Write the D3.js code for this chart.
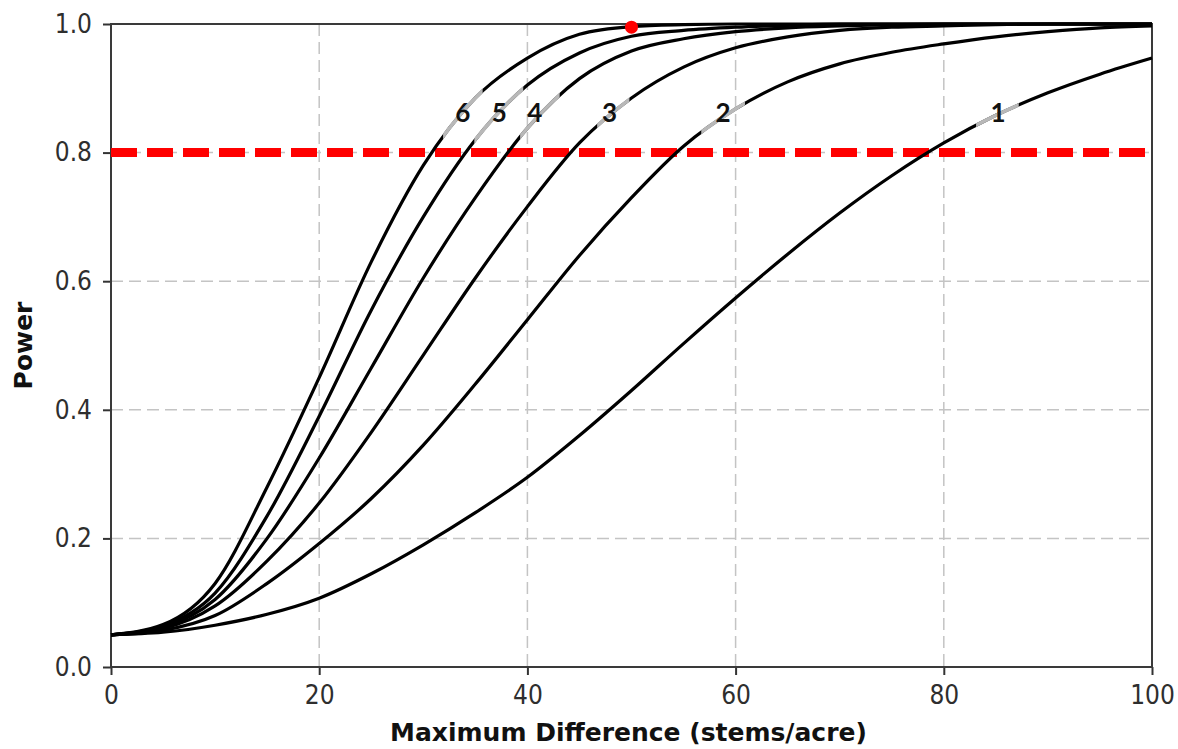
<!DOCTYPE html>
<html>
<head>
<meta charset="utf-8">
<script src="https://cdn.jsdelivr.net/npm/d3@7"></script>
<style>
    body { margin: 0; background: #fff; }
    #chart { width: 1178px; height: 749px; }
    .axis text { font-family: "DejaVu Sans Condensed", "DejaVu Sans", sans-serif; font-stretch: condensed; font-size: 26px; fill: #2e2e2e; }
    .axis line { stroke: #333; stroke-width: 2; }
    .axis path { display: none; }
    .grid line { stroke: #c4c4c4; stroke-width: 1.5; stroke-dasharray: 12, 6; }
    .axis-title { font-family: "DejaVu Sans", sans-serif; font-weight: bold; font-size: 25px; fill: #111; }
    .curve-label { font-family: Lato, "Open Sans", sans-serif; font-weight: bold; font-size: 26px; fill: #111; }
</style>
</head>
<body>
<div id="chart"></div>
<script>

// maximum difference (stems/acre) at which the curves were read
const diffs = [0, 5, 10, 15, 20, 25, 30, 35, 40, 45, 50, 55, 60, 65, 70, 75, 80, 85, 90, 95, 100];

// power, one array per curve
const power1 = [0.05, 0.054, 0.065, 0.082, 0.107, 0.145, 0.19, 0.24, 0.295, 0.36, 0.43, 0.503, 0.574, 0.642, 0.706, 0.764, 0.815, 0.858, 0.893, 0.922, 0.947];
const power2 = [0.05, 0.057, 0.08, 0.13, 0.192, 0.262, 0.345, 0.44, 0.54, 0.64, 0.73, 0.81, 0.868, 0.91, 0.938, 0.956, 0.969, 0.98, 0.988, 0.994, 0.997];
const power3 = [0.05, 0.06, 0.095, 0.165, 0.255, 0.365, 0.485, 0.605, 0.716, 0.815, 0.885, 0.933, 0.963, 0.98, 0.99, 0.995, 0.997, 0.999, 1, 1, 1];
const power4 = [0.05, 0.062, 0.105, 0.2, 0.325, 0.465, 0.605, 0.73, 0.838, 0.915, 0.958, 0.977, 0.988, 0.994, 0.997, 0.999, 1, 1, 1, 1, 1];
const power5 = [0.05, 0.064, 0.115, 0.235, 0.39, 0.555, 0.7, 0.82, 0.905, 0.955, 0.981, 0.99, 0.995, 0.998, 1, 1, 1, 1, 1, 1, 1];
const power6 = [0.05, 0.066, 0.13, 0.28, 0.45, 0.63, 0.78, 0.885, 0.947, 0.984, 0.996, 0.999, 1, 1, 1, 1, 1, 1, 1, 1, 1];

const curveNames = ["1", "2", "3", "4", "5", "6"];
const labelDiff = [85.2, 58.8, 47.9, 40.7, 37.3, 33.8];
const labelPower = 0.862;
// part of each curve that is drawn grey behind its label
const greyFrom = [83.1, 56.7, 46.7, 39.3, 34.9, 31.9];
const greyTo = [87.2, 60.9, 49.8, 43.1, 39.6, 35.7];

const targetPower = 0.8;
const markerDiff = 50;
const markerPower = 0.995;

const xTicks = [0, 20, 40, 60, 80, 100];
const yTicks = [0, 0.2, 0.4, 0.6, 0.8, 1.0];
const xGrid = [20, 40, 60, 80];
const yGrid = [0.2, 0.4, 0.6, 0.8];


class powerChart {

    constructor(opts) {
        this.element = opts.element;
        this.data = opts.data;
        this.update();
    }

    _setDimensions() {
        this.margin = {
            top: 24,
            right: 26,
            bottom: 82,
            left: 111
        };
        this.width = 1178 - this.margin.left - this.margin.right;
        this.height = 749 - this.margin.top - this.margin.bottom;
    }

    _setScales() {
        this.xScale = d3.scaleLinear()
            .domain([0, 100])
            .range([0, this.width]);

        this.yScale = d3.scaleLinear()
            .domain([0, 1])
            .range([this.height, 0]);

        this.line = d3.line()
            .curve(d3.curveMonotoneX)
            .x(d => this.xScale(d[0]))
            .y(d => this.yScale(d[1]));

        this.xAxis = d3.axisBottom(this.xScale)
            .tickValues(xTicks)
            .tickFormat(d3.format("d"))
            .tickSize(8)
            .tickPadding(11);

        this.yAxis = d3.axisLeft(this.yScale)
            .tickValues(yTicks)
            .tickFormat(d3.format(".1f"))
            .tickSize(8)
            .tickPadding(11);
    }

    update() {
        this._setDimensions();
        this._setScales();
        this.draw();
    }

    draw() {
        this.element.innerHTML = "";

        this.svg = d3.select(this.element).append("svg")
            .attr("width", this.width + this.margin.left + this.margin.right)
            .attr("height", this.height + this.margin.top + this.margin.bottom);

        this.plot = this.svg.append("g")
            .attr("transform", `translate(${this.margin.left},${this.margin.top})`);

        // grid
        let grid = this.plot.append("g").attr("class", "grid");
        grid.selectAll(".vgrid")
            .data(xGrid).enter()
            .append("line")
            .attr("x1", d => this.xScale(d))
            .attr("x2", d => this.xScale(d))
            .attr("y1", 0)
            .attr("y2", this.height);
        grid.selectAll(".hgrid")
            .data(yGrid).enter()
            .append("line")
            .attr("x1", 0)
            .attr("x2", this.width)
            .attr("y1", d => this.yScale(d))
            .attr("y2", d => this.yScale(d));

        // axes
        this.plot.append("g")
            .attr("class", "axis x-axis")
            .attr("transform", `translate(0,${this.height})`)
            .call(this.xAxis);

        this.plot.append("g")
            .attr("class", "axis y-axis")
            .call(this.yAxis);

        // frame
        this.plot.append("rect")
            .attr("x", 0)
            .attr("y", 0)
            .attr("width", this.width)
            .attr("height", this.height)
            .attr("fill", "none")
            .attr("stroke", "#3a3a3a")
            .attr("stroke-width", 2);

        // target power line
        this.plot.append("line")
            .attr("x1", this.xScale(0))
            .attr("x2", this.xScale(100))
            .attr("y1", this.yScale(targetPower))
            .attr("y2", this.yScale(targetPower))
            .attr("stroke", "#ff0000")
            .attr("stroke-width", 9)
            .attr("stroke-dasharray", "26,10");

        // clip paths for the grey bits near the labels
        let defs = this.svg.append("defs");
        defs.selectAll("clipPath")
            .data(this.data).enter()
            .append("clipPath")
            .attr("id", (d, i) => `grey-${i}`)
            .append("rect")
            .attr("x", (d, i) => this.xScale(greyFrom[i]))
            .attr("width", (d, i) => this.xScale(greyTo[i]) - this.xScale(greyFrom[i]))
            .attr("y", -10)
            .attr("height", this.height + 20);

        let curves = this.plot.append("g");

        curves.selectAll(".curve")
            .data(this.data).enter()
            .append("path")
            .attr("class", "curve")
            .attr("fill", "none")
            .attr("stroke", "#000")
            .attr("stroke-width", 3.2)
            .attr("d", d => this.line(d.points));

        curves.selectAll(".curve-grey")
            .data(this.data).enter()
            .append("path")
            .attr("class", "curve-grey")
            .attr("fill", "none")
            .attr("stroke", "#b8b8b8")
            .attr("stroke-width", 3.6)
            .attr("clip-path", (d, i) => `url(#grey-${i})`)
            .attr("d", d => this.line(d.points));

        this.plot.selectAll(".curve-label")
            .data(this.data).enter()
            .append("text")
            .attr("class", "curve-label")
            .attr("x", (d, i) => this.xScale(labelDiff[i]))
            .attr("y", this.yScale(labelPower))
            .attr("dy", "0.36em")
            .attr("text-anchor", "middle")
            .text(d => d.name);

        // marker where the curves meet full power
        this.plot.append("circle")
            .attr("cx", this.xScale(markerDiff))
            .attr("cy", this.yScale(markerPower))
            .attr("r", 6.5)
            .attr("fill", "#ff0000");

        // axis titles
        this.svg.append("text")
            .attr("class", "axis-title")
            .attr("x", this.margin.left + this.width / 2 - 3)
            .attr("y", 741)
            .attr("text-anchor", "middle")
            .text("Maximum Difference (stems/acre)");

        this.svg.append("text")
            .attr("class", "axis-title")
            .attr("transform", `translate(32,${this.margin.top + this.height / 2}) rotate(-90)`)
            .attr("text-anchor", "middle")
            .text("Power");
    }
}

let allPower = [power1, power2, power3, power4, power5, power6];
let series = allPower.map((p, i) => {
    return {
        name: curveNames[i],
        points: diffs.map((x, j) => [x, p[j]])
    };
});

new powerChart({
    element: document.getElementById("chart"),
    data: series
});

</script>
</body>
</html>
